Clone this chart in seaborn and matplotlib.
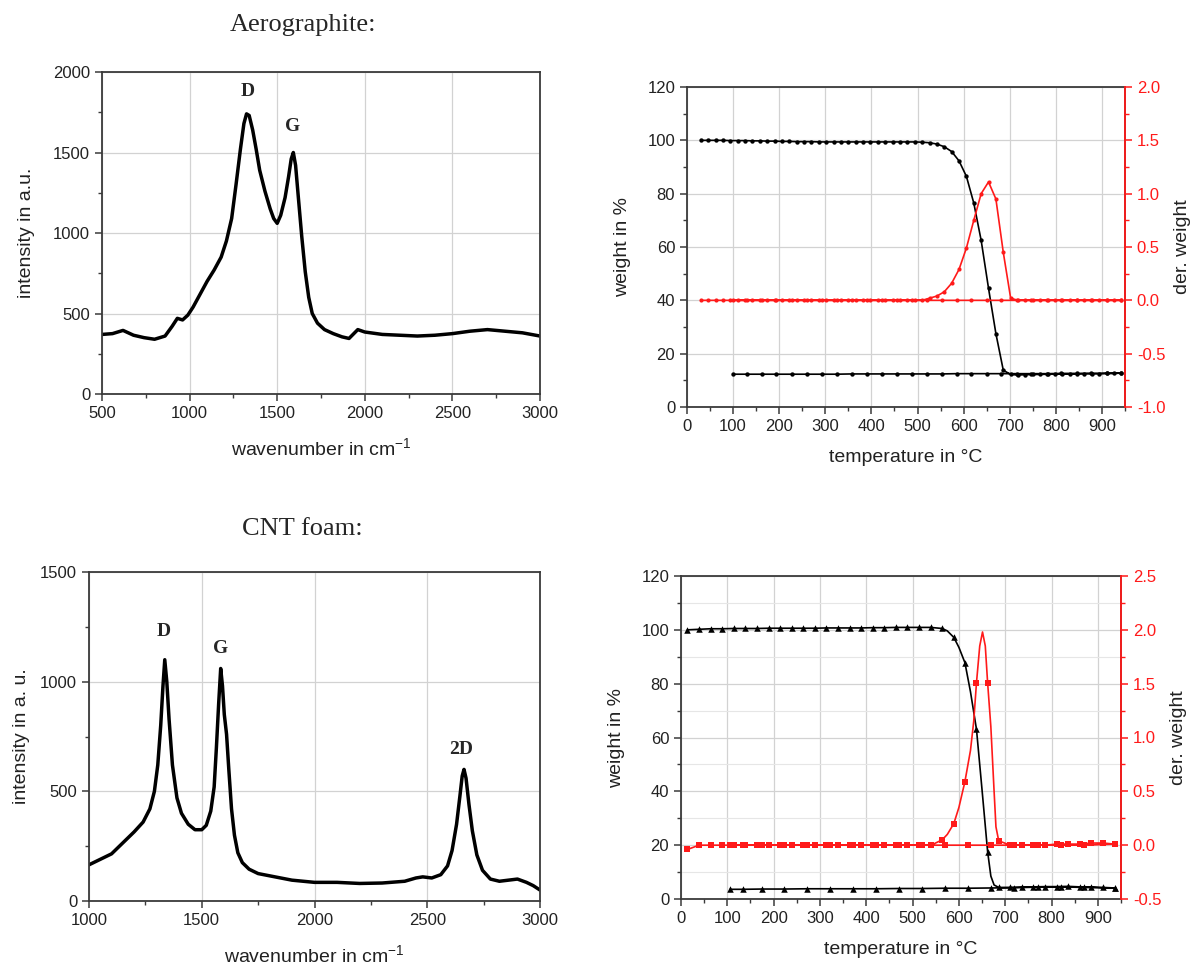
import pandas as pd
import seaborn as sns
import matplotlib.pyplot as plt
from matplotlib.ticker import MultipleLocator

# Raman spectrum, aerographite
aero_wn = [500, 560, 620, 680, 740, 800, 860, 900, 930, 960,
           990, 1020, 1060, 1100, 1140, 1180, 1210, 1240, 1265, 1290,
           1310, 1325, 1340, 1360, 1380, 1400, 1430, 1460, 1480, 1500,
           1520, 1545, 1565, 1580, 1592, 1605, 1620, 1640, 1660, 1680,
           1700, 1730, 1770, 1820, 1870, 1910, 1960, 2000, 2100, 2200,
           2300, 2400, 2500, 2600, 2700, 2800, 2900, 3000]
aero_int = [370, 375, 395, 365, 350, 340, 360, 420, 470, 460,
            490, 540, 620, 700, 770, 850, 950, 1090, 1300, 1520,
            1680, 1740, 1730, 1640, 1520, 1390, 1260, 1150, 1090, 1060,
            1110, 1220, 1350, 1460, 1500, 1420, 1230, 980, 760, 600,
            500, 440, 400, 375, 355, 345, 400, 385, 370, 365,
            360, 365, 375, 390, 400, 390, 380, 360]

# Raman spectrum, CNT foam
cnt_wn = [1000, 1050, 1100, 1150, 1200, 1240, 1270, 1290, 1305, 1318,
          1328, 1336, 1345, 1355, 1370, 1390, 1410, 1440, 1470, 1500,
          1520, 1540, 1555, 1565, 1575, 1584, 1592, 1600, 1610, 1620,
          1632, 1645, 1660, 1680, 1710, 1750, 1800, 1900, 2000, 2100,
          2200, 2300, 2400, 2450, 2480, 2520, 2560, 2590, 2610, 2630,
          2645, 2655, 2663, 2672, 2685, 2700, 2720, 2745, 2780, 2820,
          2860, 2900, 2940, 2970, 3000]
cnt_int = [165, 190, 215, 265, 315, 360, 420, 500, 620, 800,
           980, 1100, 1000, 830, 620, 470, 400, 350, 325, 325,
           345, 410, 520, 700, 900, 1060, 980, 850, 760, 600,
           420, 300, 220, 175, 145, 125, 115, 95, 85, 85,
           80, 82, 90, 105, 110, 105, 120, 160, 230, 350,
           480, 570, 600, 560, 440, 320, 210, 140, 100, 90,
           95, 100, 85, 70, 50]

# TGA aerographite, heating run
aero_T = [30, 46, 62, 78, 94, 110, 126, 142, 158, 174,
          190, 206, 222, 238, 254, 270, 286, 302, 318, 334,
          350, 366, 382, 398, 414, 430, 446, 462, 478, 494,
          510, 526, 542, 558, 574, 590, 606, 622, 638, 654,
          670, 686, 702, 718, 734, 750, 766, 782, 798, 814,
          830, 846, 862, 878, 894, 910, 926, 942]
aero_w = [100.0, 100.0, 100.0, 100.0, 99.9, 99.9, 99.9, 99.8, 99.8, 99.7,
          99.7, 99.6, 99.6, 99.5, 99.5, 99.5, 99.4, 99.4, 99.4, 99.4,
          99.4, 99.4, 99.4, 99.4, 99.4, 99.4, 99.4, 99.4, 99.4, 99.4,
          99.3, 99.1, 98.6, 97.6, 95.8, 92.3, 86.5, 76.5, 62.5, 44.5,
          27.5, 13.8, 12.2, 12.0, 12.1, 12.2, 12.2, 12.3, 12.3, 12.4,
          12.4, 12.4, 12.5, 12.5, 12.5, 12.6, 12.6, 12.7]
aero_d = [0.0, 0.0, 0.0, 0.0, 0.0, 0.0, 0.0, 0.0, 0.0, 0.0,
          0.0, 0.0, 0.0, 0.0, 0.0, 0.0, 0.0, 0.0, 0.0, 0.0,
          0.0, 0.0, 0.0, 0.0, 0.0, 0.0, 0.0, 0.0, 0.0, 0.0,
          0.0, 0.02, 0.04, 0.08, 0.16, 0.29, 0.49, 0.75, 1.0, 1.11,
          0.95, 0.45, 0.02, 0.0, 0.0, 0.0, 0.0, 0.0, 0.0, 0.0,
          0.0, 0.0, 0.0, 0.0, 0.0, 0.0, 0.0, 0.0]
# TGA aerographite, way back
aero_back_T = [942, 910, 877, 845, 812, 780, 747, 715, 682, 650,
               617, 585, 552, 520, 487, 455, 422, 390, 357, 325,
               292, 260, 227, 194, 162, 130, 100]
aero_back_w = [12.7, 12.6, 12.6, 12.6, 12.6, 12.5, 12.5, 12.5, 12.5, 12.5,
               12.5, 12.5, 12.4, 12.4, 12.4, 12.4, 12.4, 12.4, 12.4, 12.3,
               12.3, 12.3, 12.3, 12.3, 12.3, 12.3, 12.3]
aero_back_d = [0.0, 0.0, 0.0, 0.0, 0.0, 0.0, 0.0, 0.0, 0.0, 0.0,
               0.0, 0.0, 0.0, 0.0, 0.0, 0.0, 0.0, 0.0, 0.0, 0.0,
               0.0, 0.0, 0.0, 0.0, 0.0, 0.0, 0.0]

# TGA CNT foam, heating run (marked points)
cnt_T = [14, 39, 64, 89, 114, 139, 164, 189, 214, 239,
         264, 289, 314, 339, 364, 389, 414, 439, 464, 489,
         514, 539, 564, 589, 613, 638, 662, 686, 711, 736,
         761, 786, 811, 836, 861, 886, 911, 936]
cnt_w = [100.0, 100.2, 100.4, 100.4, 100.5, 100.5, 100.5, 100.6, 100.6, 100.6,
         100.6, 100.6, 100.7, 100.7, 100.7, 100.7, 100.8, 100.8, 100.9, 100.9,
         100.9, 100.9, 100.5, 97.2, 87.8, 63.0, 17.6, 4.3, 4.3, 4.4,
         4.5, 4.6, 4.6, 4.7, 4.5, 4.5, 4.3, 4.1]
cnt_d = [-0.04, 0.0, 0.0, 0.0, 0.0, 0.0, 0.0, 0.0, 0.0, 0.0,
         0.0, 0.0, 0.0, 0.0, 0.0, 0.0, 0.0, 0.0, 0.0, 0.0,
         0.0, 0.0, 0.05, 0.20, 0.59, 1.51, 1.51, 0.04, 0.0, 0.0,
         0.0, 0.0, 0.01, 0.01, 0.01, 0.02, 0.02, 0.01]
# unmarked points of the curves between the markers
cnt_w_fine_T = [575, 600, 625, 650, 669, 676]
cnt_w_fine = [99.6, 93.5, 77.0, 40.5, 8.5, 5.2]
cnt_d_fine_T = [545, 575, 600, 625, 632, 645, 651, 657, 669, 676, 680]
cnt_d_fine = [0.01, 0.1, 0.35, 0.88, 1.15, 1.85, 1.98, 1.85, 1.1, 0.5, 0.17]
# TGA CNT foam, way back
cnt_back_T = [936, 870, 820, 770, 720, 670, 620, 571, 521, 471,
              420, 372, 321, 271, 222, 174, 133, 106]
cnt_back_w = [4.0, 4.3, 4.5, 4.4, 4.2, 4.1, 4.0, 4.0, 3.9, 3.9,
              3.8, 3.8, 3.8, 3.8, 3.7, 3.7, 3.6, 3.6]
cnt_back_d = [0.01, 0.0, 0.0, 0.0, 0.0, 0.0, 0.0, 0.0, 0.0, 0.0,
              0.0, 0.0, 0.0, 0.0, 0.0, 0.0, 0.0, 0.0]

sns.set_style("ticks")
plt.rcParams['font.family'] = ['Liberation Sans', 'DejaVu Sans']
plt.rcParams['mathtext.default'] = 'regular'
plt.rcParams['axes.unicode_minus'] = False

GRID = '#d2d2d2'
SPINE = '#3a3a3a'
RED = '#ff1a1a'


def style_axes(ax):
    ax.grid(True, which='major', color=GRID, lw=0.9)
    ax.set_axisbelow(True)
    for s in ax.spines.values():
        s.set_color(SPINE)
        s.set_linewidth(1.3)
    ax.tick_params(which='both', direction='out', colors=SPINE,
                   labelcolor='#222222', labelsize=12)
    ax.tick_params(which='major', length=5, width=1.1)
    ax.tick_params(which='minor', length=3, width=1.0)


def raman(ax, wn, inten, xlim, ylim, ylabel, ypad, peaks):
    sns.lineplot(x=wn, y=inten, ax=ax, color='black', lw=2.5,
                 sort=False, estimator=None)
    ax.set_xlim(xlim)
    ax.set_ylim(ylim)
    ax.xaxis.set_major_locator(MultipleLocator(500))
    ax.xaxis.set_minor_locator(MultipleLocator(250))
    ax.yaxis.set_major_locator(MultipleLocator(500))
    ax.yaxis.set_minor_locator(MultipleLocator(250))
    style_axes(ax)
    ax.set_xlabel('wavenumber in cm$^{-1}$', fontsize=14, labelpad=12, color='#222222')
    ax.set_ylabel(ylabel, fontsize=14, labelpad=ypad, color='#222222')
    for txt, x, y in peaks:
        ax.text(x, y, txt, ha='center', va='center', fontsize=14,
                fontweight='bold', family='Liberation Serif')


def tga(ax, T, w, d, back_T, back_w, back_d, fine_wT, fine_w, fine_dT, fine_d,
        dlim, wmark, dmark, wsize, dsize, minor_grid):
    ax2 = ax.twinx()
    # heating run with the in-between points, then the way back
    fw = pd.DataFrame({'T': T + fine_wT, 'v': w + fine_w}).sort_values('T')
    fd = pd.DataFrame({'T': T + fine_dT, 'v': d + fine_d}).sort_values('T')
    lw_df = pd.concat([fw, pd.DataFrame({'T': back_T, 'v': back_w})])
    ld_df = pd.concat([fd, pd.DataFrame({'T': back_T, 'v': back_d})])

    sns.lineplot(data=ld_df, x='T', y='v', ax=ax2, color=RED, lw=1.2,
                 sort=False, estimator=None)
    sns.scatterplot(x=T + back_T, y=d + back_d, ax=ax2, color=RED,
                    marker=dmark, s=dsize, linewidth=0, zorder=3)
    sns.lineplot(data=lw_df, x='T', y='v', ax=ax, color='black', lw=1.2,
                 sort=False, estimator=None)
    sns.scatterplot(x=T + back_T, y=w + back_w, ax=ax, color='black',
                    marker=wmark, s=wsize, linewidth=0, zorder=3)

    ax.set_xlim(0, 950)
    ax.set_ylim(0, 120)
    ax.xaxis.set_major_locator(MultipleLocator(100))
    ax.xaxis.set_minor_locator(MultipleLocator(50))
    ax.yaxis.set_major_locator(MultipleLocator(20))
    ax.yaxis.set_minor_locator(MultipleLocator(10))
    style_axes(ax)
    if minor_grid:
        ax.grid(True, which='minor', axis='y', color='#e6e6e6', lw=0.8)
    ax.set_xlabel('temperature in °C', fontsize=14, labelpad=11, color='#222222')
    ax.set_ylabel('weight in %', fontsize=14, labelpad=12, color='#222222')

    ax2.set_ylim(dlim)
    ax2.yaxis.set_major_locator(MultipleLocator(0.5))
    ax2.yaxis.set_minor_locator(MultipleLocator(0.25))
    ax2.grid(False)
    for s in ['top', 'left', 'bottom']:
        ax2.spines[s].set_visible(False)
    ax2.spines['right'].set_color(RED)
    ax2.spines['right'].set_linewidth(1.3)
    ax2.tick_params(which='both', direction='out', colors=RED,
                    labelcolor=RED, labelsize=12)
    ax2.tick_params(which='major', length=5, width=1.1)
    ax2.tick_params(which='minor', length=3, width=1.0)
    ax2.set_ylabel('der. weight', fontsize=14, labelpad=6, color='#222222')
    ax2.set_xlabel('')


fig = plt.figure(figsize=(11.95, 9.66), dpi=100)
W, H = 1195, 966


def box(x0, y0, x1, y1):
    return [x0 / W, 1 - y1 / H, (x1 - x0) / W, (y1 - y0) / H]


ax_a = fig.add_axes(box(102, 72, 540, 394))
ax_b = fig.add_axes(box(687, 87, 1125, 407))
ax_c = fig.add_axes(box(89, 572, 540, 901))
ax_d = fig.add_axes(box(681, 576, 1121, 899))

raman(ax_a, aero_wn, aero_int, (500, 3000), (0, 2000), 'intensity in a.u.', 13,
      [('D', 1330, 1880), ('G', 1590, 1660)])
raman(ax_c, cnt_wn, cnt_int, (1000, 3000), (0, 1500), 'intensity in a. u.', 7,
      [('D', 1330, 1230), ('G', 1582, 1150), ('2D', 2650, 690)])

tga(ax_b, aero_T, aero_w, aero_d, aero_back_T, aero_back_w, aero_back_d,
    [], [], [], [], (-1.0, 2.0), 'o', 'o', 10, 9, False)
tga(ax_d, cnt_T, cnt_w, cnt_d, cnt_back_T, cnt_back_w, cnt_back_d,
    cnt_w_fine_T, cnt_w_fine, cnt_d_fine_T, cnt_d_fine, (-0.5, 2.5),
    '^', 's', 22, 16, True)

fig.text(303 / W, 1 - 25 / H, 'Aerographite:', ha='center', va='center',
         fontsize=19, family='Liberation Serif')
fig.text(302 / W, 1 - 529 / H, 'CNT foam:', ha='center', va='center',
         fontsize=19, family='Liberation Serif')

fig.savefig('out.png', dpi=100, facecolor='white')
